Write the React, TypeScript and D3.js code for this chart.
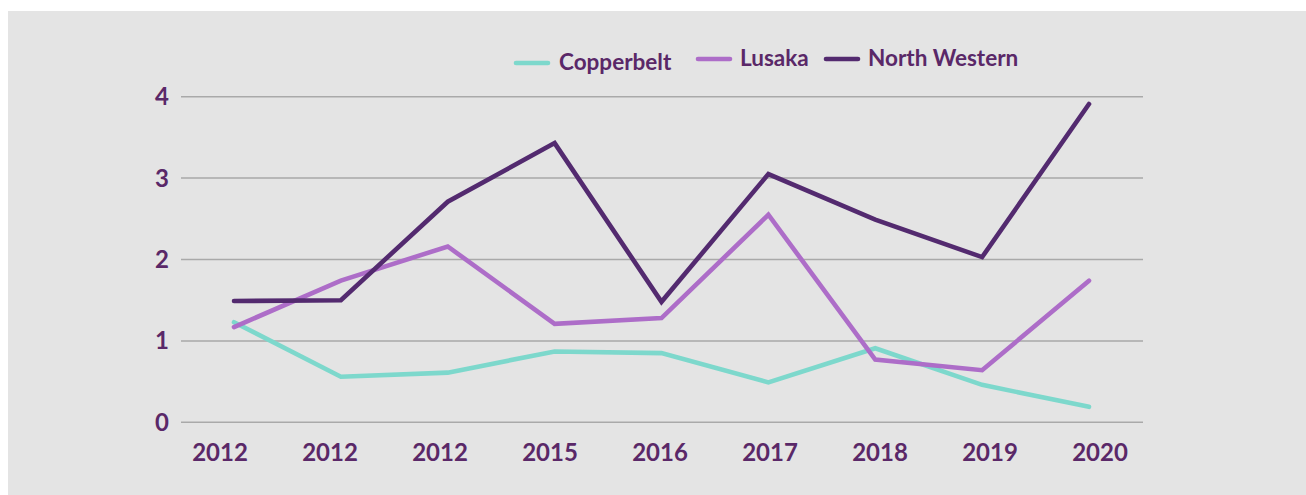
import * as d3 from "d3";
import React from "react";

const years = ["2012", "2012", "2012", "2015", "2016", "2017", "2018", "2019", "2020"];
const copperbelt = [1.23, 0.56, 0.61, 0.87, 0.85, 0.49, 0.91, 0.46, 0.19];
const lusaka = [1.17, 1.74, 2.16, 1.21, 1.28, 2.55, 0.77, 0.64, 1.74];
const northWestern = [1.49, 1.5, 2.71, 3.43, 1.48, 3.05, 2.49, 2.03, 3.91];
const yTicks = [0, 1, 2, 3, 4];

const series = [
  { name: "Copperbelt", values: copperbelt, color: "#7dd8cc" },
  { name: "Lusaka", values: lusaka, color: "#ad6dc8" },
  { name: "North Western", values: northWestern, color: "#532a6f" },
];

const textColor = "#5a2868";
const font = "Lato, 'Noto Sans', sans-serif";

export default function App() {
  const width = 1306,
    height = 495;

  const idx = years.map((_, i) => i);
  // points and labels sit on slightly different grids in the original
  const x = d3.scalePoint<number>().domain(idx).range([234, 1089]);
  const xLabel = d3.scalePoint<number>().domain(idx).range([220, 1100]);
  const y = d3.scaleLinear().domain([0, 4]).range([422.3, 96.7]);

  const line = d3
    .line<number>()
    .x((_, i) => x(i)!)
    .y((d) => y(d));

  // legend placement
  const legend = [
    { x: 516, y: 63, tx: 559, ty: 70 },
    { x: 698, y: 59, tx: 740, ty: 66 },
    { x: 826, y: 59, tx: 868, ty: 66 },
  ];

  return (
    <svg
      width={width}
      height={height}
      style={{ position: "absolute", left: 0, top: 0 }}
      fontFamily={font}
    >
      <rect x={8} y={11} width={width - 8} height={height - 11} fill="#e4e4e4" />

      {/* gridlines */}
      {yTicks.map((t) => (
        <g key={t}>
          <line x1={181} x2={1143} y1={y(t)} y2={y(t)} stroke="#a9a9a9" strokeWidth={1.5} />
          <text
            x={169}
            y={y(t) + 8.5}
            textAnchor="end"
            fontSize={24}
            fontWeight={700}
            fill={textColor}
          >
            {t}
          </text>
        </g>
      ))}

      {/* x labels */}
      {years.map((yr, i) => (
        <text
          key={i}
          x={xLabel(i)}
          y={461}
          textAnchor="middle"
          fontSize={24}
          fontWeight={700}
          fill={textColor}
        >
          {yr}
        </text>
      ))}

      {/* lines */}
      {series.map((s) => (
        <path
          key={s.name}
          d={line(s.values)!}
          fill="none"
          stroke={s.color}
          strokeWidth={4.6}
          strokeLinecap="round"
          strokeLinejoin="miter"
        />
      ))}

      {/* legend */}
      {series.map((s, i) => (
        <g key={s.name}>
          <line
            x1={legend[i].x}
            x2={legend[i].x + 32}
            y1={legend[i].y}
            y2={legend[i].y}
            stroke={s.color}
            strokeWidth={4.6}
            strokeLinecap="round"
          />
          <text
            x={legend[i].tx}
            y={legend[i].ty}
            fontSize={22.5}
            fontWeight={700}
            fill={textColor}
          >
            {s.name}
          </text>
        </g>
      ))}
    </svg>
  );
}
